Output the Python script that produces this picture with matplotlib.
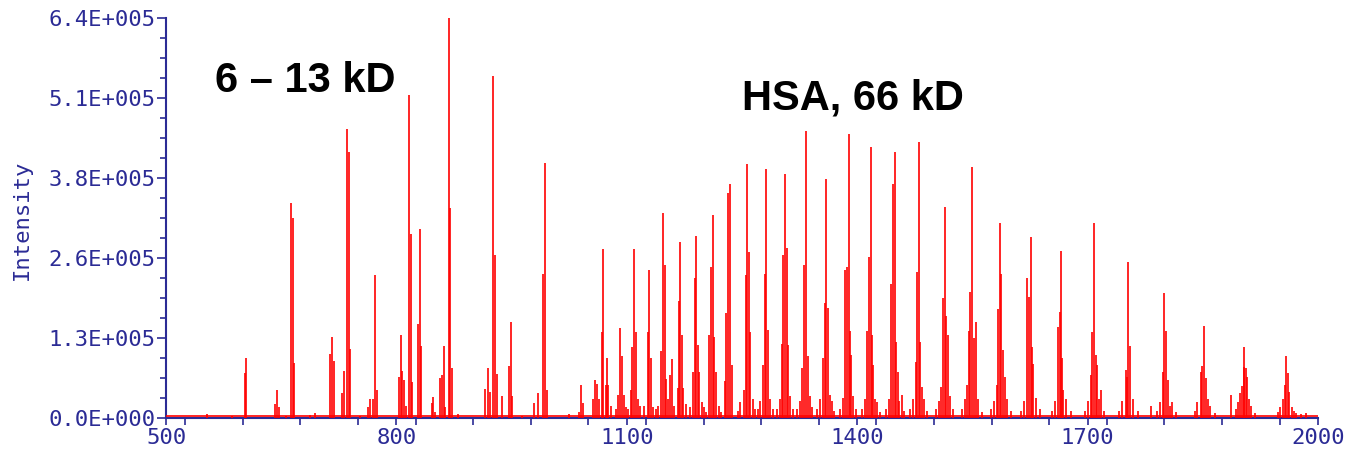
import numpy as np
import matplotlib
matplotlib.use("Agg")
import matplotlib.pyplot as plt
from matplotlib.ticker import MultipleLocator, FuncFormatter
import matplotlib.transforms as mtransforms

# low mass proteins, 6 - 13 kD (m/z, intensity)
lmw_mz = [553, 585.5, 602.5, 604.6, 642.4, 645, 647.5, 656, 662.8, 665, 666.7,
          687.5, 694, 713.5, 716.1, 718.3, 729, 732.2, 736, 737.9, 740, 752,
          762.6, 765.2, 770, 772, 774.7, 803, 805.6, 807.3, 809.9, 812,
          816.4, 818.6, 820.7, 828.1, 830.3, 832.4, 846, 848, 850.3,
          856.8, 859.4, 861.6, 863.7, 868.5, 870.2, 872.8, 879.8,
          915.4, 919.3, 921.9, 926.2, 927.8, 930.4, 937, 946.6, 948.8, 950.9,
          963, 979.6, 984.4, 990.9, 993, 995.7]
lmw_int = [6e3, 4e3, 72e3, 96e3, 22e3, 45e3, 17e3, 4e3, 344e3, 320e3, 88e3,
           5e3, 8e3, 102e3, 130e3, 92e3, 40e3, 75e3, 462e3, 426e3, 110e3, 3e3,
           17e3, 31e3, 31e3, 229e3, 45e3, 66e3, 133e3, 75e3, 61e3, 20e3,
           517e3, 294e3, 58e3, 151e3, 303e3, 116e3, 24e3, 33e3, 10e3,
           64e3, 69e3, 116e3, 18e3, 640e3, 336e3, 80e3, 6e3,
           47e3, 80e3, 42e3, 547e3, 261e3, 70e3, 36e3, 83e3, 154e3, 36e3,
           4e3, 24e3, 40e3, 231e3, 408e3, 45e3]

# HSA charge state envelope, 66 kD
hsa_mz = [1025, 1038, 1040, 1042.5, 1055.5, 1058, 1060.6, 1067.1, 1069.2, 1072.3,
          1073.6, 1075.7, 1089, 1091, 1093.8, 1096.4, 1105, 1107, 1109.8, 1112,
          1114, 1127.2, 1129.3, 1131.9, 1134.5, 1145, 1147.5, 1149.3, 1151,
          1156.6, 1158.9, 1166.2, 1167.8, 1169.6, 1171.9, 1173.6, 1186.2, 1188.4,
          1190.1, 1192.7, 1194.4, 1207.5, 1210, 1212.2, 1214, 1216.1, 1227.5,
          1229.6, 1231.8, 1234.4, 1236.5, 1252.6, 1254.8, 1256.9, 1259.1, 1260.8,
          1277.7, 1279.5, 1281.6, 1283.5, 1302.5, 1303.8, 1306.4, 1308.2, 1309.5,
          1328.5, 1330.7, 1333.3, 1335.5, 1355, 1357.5, 1360, 1362.2, 1364.6,
          1384.1, 1387.1, 1389.3, 1390.6, 1392.3, 1413, 1415.5, 1418.1, 1419.9,
          1421.2, 1423.6, 1444.4, 1446.6, 1449.2, 1450.5, 1452.7, 1458.7,
          1476.2, 1478.3, 1480.9, 1482.2, 1484.4, 1509.1, 1511.7, 1514.3, 1516,
          1518.2, 1543.4, 1545.6, 1547.3, 1549.9, 1552.1, 1554.3, 1581.4, 1583.5,
          1585.3, 1587.4, 1590, 1592.2, 1620.7, 1623.3, 1625.9, 1627.6, 1629.3,
          1661.5, 1664.1, 1665.8, 1667.1, 1668.4, 1704.4, 1706.2, 1708.3, 1710.9,
          1712.6, 1717.4, 1749.6, 1751.7, 1753, 1755.2, 1782.1, 1797.7, 1799.9,
          1802.1, 1804.3, 1807.3, 1847.1, 1849.2, 1851.9, 1854.2, 1856.3, 1886.3,
          1898.4, 1900.7, 1903.3, 1904, 1905.8, 1908, 1910, 1954, 1957, 1958.7,
          1960.9, 1962.6, 1965.8, 1972, 1978, 1985]
hsa_int = [6e3, 10e3, 53e3, 24e3, 31e3, 61e3, 55e3, 138e3, 270e3, 53e3,
           96e3, 53e3, 37e3, 144e3, 100e3, 37e3, 45e3, 113e3, 270e3, 138e3,
           31e3, 138e3, 237e3, 96e3, 18e3, 108e3, 328e3, 245e3, 62e3,
           69e3, 94e3, 48e3, 187e3, 281e3, 133e3, 48e3, 74e3, 224e3,
           292e3, 117e3, 74e3, 133e3, 242e3, 325e3, 130e3, 74e3, 60e3,
           168e3, 360e3, 374e3, 85e3, 45e3, 229e3, 406e3, 266e3, 138e3,
           85e3, 231e3, 399e3, 141e3, 119e3, 261e3, 390e3, 272e3, 117e3,
           80e3, 245e3, 459e3, 100e3, 96e3, 184e3, 382e3, 176e3, 37e3,
           237e3, 242e3, 454e3, 140e3, 101e3, 140e3, 258e3, 434e3, 133e3,
           85e3, 31e3, 215e3, 374e3, 426e3, 122e3, 74e3, 37e3,
           90e3, 234e3, 442e3, 122e3, 50e3, 50e3, 192e3, 338e3, 163e3,
           133e3, 53e3, 140e3, 201e3, 402e3, 128e3, 154e3, 53e3, 174e3,
           312e3, 231e3, 109e3, 66e3, 224e3, 193e3, 289e3, 114e3, 87e3,
           146e3, 170e3, 267e3, 96e3, 45e3, 69e3, 137e3, 312e3, 101e3,
           85e3, 45e3, 77e3, 66e3, 250e3, 115e3, 20e3, 74e3, 200e3,
           140e3, 61e3, 20e3, 74e3, 83e3, 147e3, 64e3, 31e3, 37e3,
           40e3, 51e3, 81e3, 113e3, 80e3, 66e3, 31e3, 31e3, 53e3, 100e3,
           72e3, 42e3, 18e3, 8e3, 6e3, 8e3]

# low-level shoulders around the HSA charge states
tail_mz = [1064, 1079, 1086, 1099, 1102, 1117, 1123, 1138, 1141, 1153, 1162,
           1177, 1182, 1198, 1200, 1203, 1220, 1223, 1245, 1248, 1264, 1267,
           1271, 1274, 1287, 1290, 1296, 1299, 1313, 1316, 1321, 1325, 1338,
           1341, 1348, 1352, 1367, 1370, 1377, 1381, 1395, 1398, 1406, 1410,
           1426, 1430, 1437, 1441, 1455, 1461, 1469, 1473, 1487, 1491, 1502,
           1506, 1521, 1525, 1536, 1540, 1557, 1562, 1574, 1578, 1595, 1600,
           1613, 1617, 1633, 1638, 1653, 1657, 1672, 1678, 1696, 1700, 1715,
           1722, 1741, 1745, 1759, 1765, 1790, 1794, 1810, 1815, 1840, 1843,
           1860, 1866, 1893, 1896, 1913, 1918, 1948, 1951, 1969]
tail_int = [30e3, 20e3, 15e3, 18e3, 15e3, 20e3, 20e3, 15e3, 20e3, 30e3, 20e3,
            22e3, 18e3, 25e3, 18e3, 10e3, 20e3, 10e3, 12e3, 25e3, 30e3, 15e3,
            15e3, 28e3, 30e3, 14e3, 15e3, 30e3, 35e3, 15e3, 15e3, 28e3, 35e3,
            18e3, 14e3, 30e3, 28e3, 12e3, 15e3, 32e3, 35e3, 15e3, 14e3, 30e3,
            25e3, 10e3, 15e3, 30e3, 28e3, 12e3, 15e3, 30e3, 30e3, 12e3, 15e3,
            28e3, 35e3, 14e3, 14e3, 30e3, 30e3, 10e3, 14e3, 28e3, 30e3, 12e3,
            12e3, 28e3, 32e3, 14e3, 12e3, 28e3, 30e3, 12e3, 12e3, 28e3, 30e3,
            12e3, 12e3, 28e3, 30e3, 12e3, 12e3, 26e3, 25e3, 10e3, 12e3, 25e3,
            20e3, 8e3, 15e3, 25e3, 20e3, 8e3, 10e3, 18e3, 12e3]

mz = np.array(lmw_mz + hsa_mz + tail_mz)
intensity = np.array(lmw_int + hsa_int + tail_int)

axis_blue = "#2b2b95"


def sci_label(v, pos):
    if v == 0:
        return "0.0E+000"
    e = int(np.floor(np.log10(abs(v))))
    m = v / 10 ** e
    return f"{m:.1f}E+{e:03d}"


fig = plt.figure(figsize=(13.46, 4.53), dpi=100)
ax = fig.add_axes([166 / 1346, 35 / 453, 1152 / 1346, 400 / 453])

ax.vlines(mz, 0, intensity, color="#ff0000", linewidth=1.2, zorder=3)
base = mtransforms.offset_copy(ax.transData, fig=fig, x=0, y=1.3, units="points")
ax.plot([500, 2000], [0, 0], color="#ff0000", linewidth=1.2, transform=base, zorder=3)

ax.set_xlim(500, 2000)
ax.set_ylim(0, 640000)
ax.set_xticks(np.arange(500, 2001, 300))
ax.xaxis.set_minor_locator(MultipleLocator(75))
ax.set_yticks(np.arange(0, 640001, 128000))
ax.yaxis.set_minor_locator(MultipleLocator(32000))
ax.yaxis.set_major_formatter(FuncFormatter(sci_label))

for side in ["top", "right"]:
    ax.spines[side].set_visible(False)
for side in ["left", "bottom"]:
    ax.spines[side].set_color(axis_blue)
    ax.spines[side].set_linewidth(1.5)

mono = "DejaVu Sans Mono"
ax.tick_params(axis="both", which="both", direction="out", colors=axis_blue, width=1.2)
ax.tick_params(axis="y", which="major", length=6.5, pad=1)
ax.tick_params(axis="y", which="minor", length=4.3)
ax.tick_params(axis="x", which="major", length=5, pad=2)
ax.tick_params(axis="x", which="minor", length=5)
for lab in ax.get_xticklabels() + ax.get_yticklabels():
    lab.set_fontfamily(mono)
    lab.set_fontsize(16)
    lab.set_color(axis_blue)

fig.text(22 / 1346, 1 - 220 / 453, "Intensity", rotation=90, ha="center", va="center",
         family=mono, fontsize=16, color=axis_blue)

ax.text(564, 521000, "6 \u2013 13 kD", family="Liberation Sans", weight="bold",
        fontsize=30, color="black", ha="left", va="baseline")
ax.text(1250, 493000, "HSA, 66 kD", family="Liberation Sans", weight="bold",
        fontsize=30, color="black", ha="left", va="baseline")

fig.savefig("out.png", dpi=100, facecolor="white")
